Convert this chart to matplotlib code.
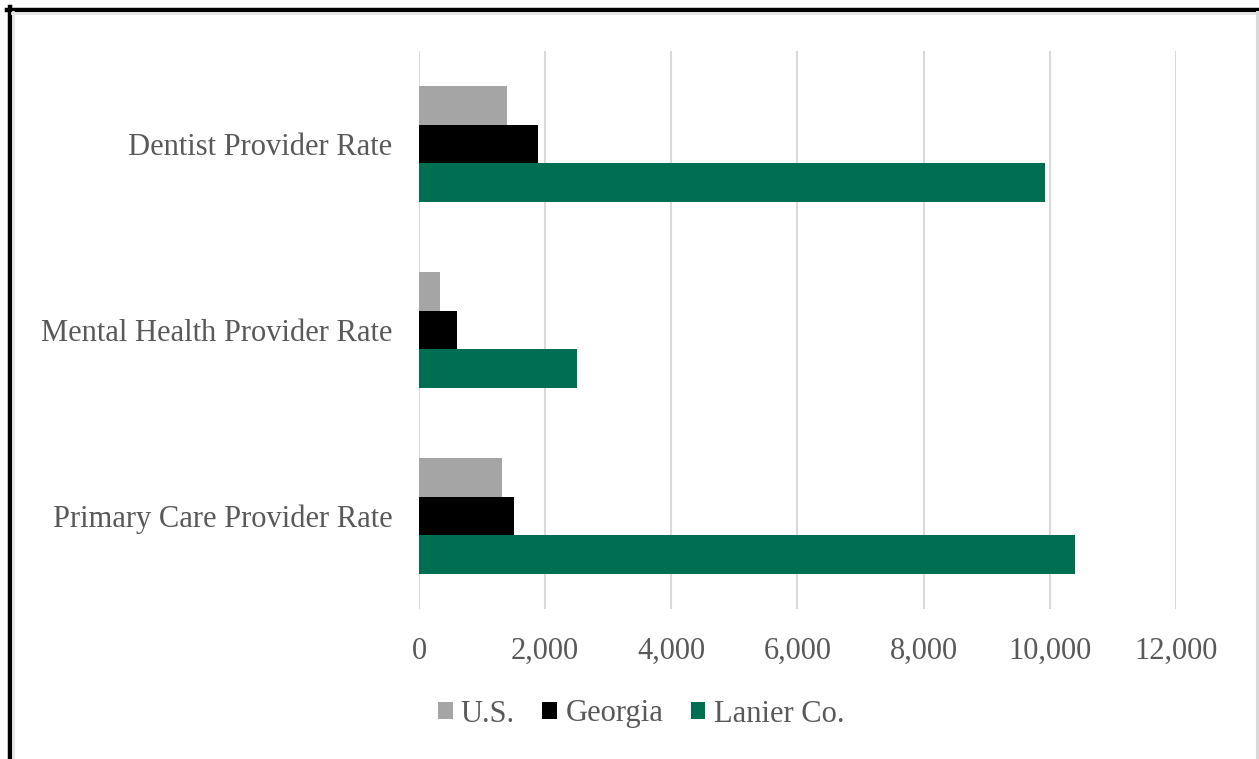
import numpy as np
import matplotlib.pyplot as plt
from matplotlib.patches import Patch
from matplotlib.lines import Line2D

# categories from bottom to top
categories = ['Primary Care Provider Rate', 'Mental Health Provider Rate', 'Dentist Provider Rate']
us = [1320, 340, 1400]
georgia = [1500, 610, 1890]
lanier = [10400, 2500, 9920]
series_names = ['U.S.', 'Georgia', 'Lanier Co.']
colors = ['#A5A5A5', '#000000', '#006F51']
xticks = [0, 2000, 4000, 6000, 8000, 10000, 12000]

plt.rcParams['font.family'] = ['Liberation Serif', 'DejaVu Serif']
text_color = '#595959'

fig = plt.figure(figsize=(12.59, 7.59), dpi=100)
ax = fig.add_axes([419 / 1259, 1 - 609 / 759, 757 / 1259, 558 / 759])

y = np.arange(len(categories))
h = 0.208
# U.S. on top of each group, Lanier Co. at the bottom
for offset, vals, col in zip([h, 0, -h], [us, georgia, lanier], colors):
    ax.barh(y + offset, vals, height=h, color=col, zorder=3)

ax.set_xlim(0, 12000)
ax.set_ylim(-0.5, 2.5)
ax.set_xticks(xticks)
ax.set_xticklabels(['{:,}'.format(v) for v in xticks])
ax.set_yticks(y)
ax.set_yticklabels(categories)
ax.tick_params(axis='both', length=0, labelsize=22, labelcolor=text_color)
ax.tick_params(axis='y', pad=19)
ax.tick_params(axis='x', pad=20)
ax.grid(axis='x', color='#D9D9D9', linewidth=1.5, zorder=0)
for s in ax.spines.values():
    s.set_visible(False)

# legend below the plot
handles = [Patch(facecolor=c, edgecolor='none') for c in colors]
leg = fig.legend(handles, series_names, loc='center', ncol=3,
                 bbox_to_anchor=(641 / 1259, 1 - 714 / 759), frameon=False,
                 fontsize=22, handlelength=0.48, handleheight=0.48,
                 handletextpad=0.27, columnspacing=0.9, borderpad=0)
for t in leg.get_texts():
    t.set_color(text_color)

# frame around the figure
W, H = 1259, 759
fig.add_artist(Line2D([7 / W, 1], [1 - 9.5 / H, 1 - 9.5 / H], color='black', linewidth=3.2))
fig.add_artist(Line2D([9.5 / W, 9.5 / W], [0, 1 - 7 / H], color='black', linewidth=3.2))
fig.add_artist(Line2D([12 / W, 1], [1 - 13 / H, 1 - 13 / H], color='#E6E6E6', linewidth=2))
fig.add_artist(Line2D([13 / W, 13 / W], [0, 1 - 12 / H], color='#E6E6E6', linewidth=2))
fig.add_artist(Line2D([1256.5 / W, 1256.5 / W], [0, 1 - 12 / H], color='#D9D9D9', linewidth=2.2))

fig.savefig('out.png', dpi=100)
